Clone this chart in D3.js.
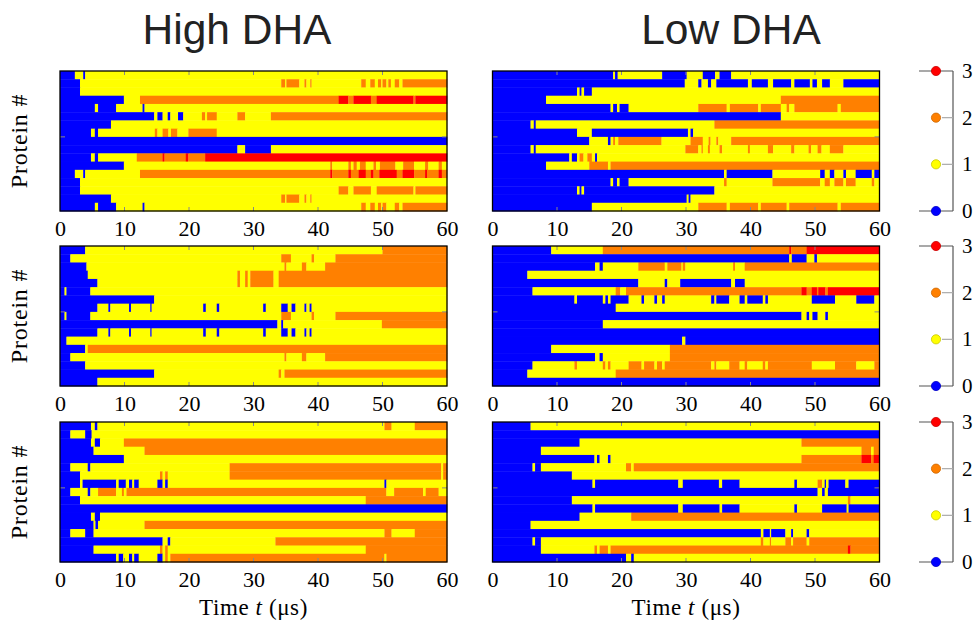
<!DOCTYPE html>
<html>
<head>
<meta charset="utf-8">
<script src="https://cdn.jsdelivr.net/npm/d3@7"></script>
<style>
  body { margin: 0; background: #fff; }
  svg { display: block; }
  .title { font-family: "Liberation Sans", Arial, sans-serif; font-size: 42.5px; fill: #222; }
  .lbl { font-family: "Liberation Serif", "Times New Roman", serif; font-size: 22px; fill: #000; }
  .axis text { font-family: "Liberation Serif", "Times New Roman", serif; font-size: 22px; fill: #000; }
  .axis path, .axis line { display: none; }
</style>
</head>
<body>
<svg id="chart" width="975" height="625"></svg>
<script>
// each row = list of [start time (us), state] change points, row runs until 60
var highTop = [
  [[0,0],[2.3,1],[3.6,0],[3.9,1]],
  [[0,0],[3.1,1],[34.3,2],[34.9,1],[35.1,2],[37.1,1],[37.9,2],[38.2,1],[38.8,2],[39.0,1],[46.7,2],[47.4,1],[48.1,2],[48.8,1],[49.3,2],[49.8,1],[50.0,2],[50.6,1],[50.9,2],[51.3,1],[51.9,2],[52.6,1],[53.1,2]],
  [[0,0],[3.1,1]],
  [[0,0],[9.9,1],[12.4,2],[43.2,3],[44.7,2],[45.5,3],[48.2,2],[49.1,3],[54.8,2],[55.1,3]],
  [[0,0],[5.4,1],[5.9,0],[8.7,1],[12.8,0],[13.1,1]],
  [[0,0],[14.6,1],[15.1,0],[15.9,1],[16.7,0],[17.1,1],[18.3,0],[19.1,1],[22.0,2],[22.5,1],[22.8,2],[24.3,1],[27.5,2],[28.7,1],[32.7,2]],
  [[0,0],[7.9,1]],
  [[0,0],[4.8,1],[5.4,0],[5.9,1],[14.7,2],[15.1,1],[15.9,2],[16.8,1],[17.2,2],[18.2,1],[19.9,2],[24.3,1]],
  [[0,0]],
  [[0,0],[27.5,1],[28.7,0],[32.7,1]],
  [[0,0],[4.8,1],[5.4,0],[5.9,1],[11.9,2],[15.9,3],[16.2,2],[19.5,3],[19.9,2],[22.5,3]],
  [[0,0],[9.9,1],[41.9,2],[42.2,1],[44.7,2],[45.1,1],[45.5,2],[46.0,1],[46.5,2],[47.4,1],[48.6,2],[49.0,1],[49.6,2],[52.0,1],[53.2,2],[54.9,1],[56.6,2],[57.1,1],[58.7,2],[59.2,1]],
  [[0,0],[2.3,1],[3.6,0],[3.9,1],[12.4,2],[41.9,3],[42.2,2],[44.7,3],[45.1,2],[46.3,3],[47.4,2],[48.2,3],[48.6,2],[49.5,3],[52.2,2],[53.1,3],[54.9,2],[56.6,3],[56.9,2],[58.7,3],[59.2,2]],
  [[0,0],[3.1,1]],
  [[0,0],[3.1,1],[43.2,2],[44.7,1],[45.5,2],[48.2,1],[49.1,2],[54.8,1],[55.1,2]],
  [[0,0],[7.9,1],[34.3,2],[34.9,1],[35.1,2],[37.1,1],[37.9,2],[38.2,1],[38.8,2],[39.0,1]],
  [[0,0],[5.4,1],[5.9,0],[8.7,1],[12.8,0],[13.1,1],[46.7,2],[47.4,1],[48.1,2],[48.8,1],[49.3,2],[49.8,1],[50.0,2],[50.6,1],[51.9,2],[52.6,1],[53.1,2]]
];
var lowTop = [
  [[0,0],[18.7,1],[19.0,0],[19.4,1],[26.3,0],[30.1,1],[32.6,0],[34.5,1],[35.2,0],[37.0,1]],
  [[0,0],[29.8,1],[31.9,0],[32.4,1],[33.4,0],[33.9,1],[34.7,0],[39.6,1],[40.2,0],[42.7,1],[43.5,0],[46.3,1],[46.8,0],[49.2,1],[49.6,0],[50.3,1],[51.1,0],[52.3,1],[54.4,0]],
  [[0,0],[13.1,1],[13.5,0],[13.8,1],[14.2,0],[15.4,1]],
  [[0,0],[8.3,1],[44.7,2]],
  [[0,0],[18.3,1],[18.7,0],[19.3,1],[19.7,0],[21.1,1],[31.9,2],[36.3,1],[36.8,2],[41.2,1],[41.6,2],[44.7,1],[45.6,2],[46.0,1],[46.8,2],[53.5,1],[54.0,2]],
  [[0,0],[44.7,1]],
  [[0,0],[5.9,1],[6.4,0],[6.7,1],[34.4,2]],
  [[0,0],[13.1,1],[15.4,0],[30.3,1],[30.7,0],[31.1,1]],
  [[0,0],[15.0,1],[17.9,0],[18.3,1],[18.7,2],[19.0,1],[19.5,2],[26.2,1],[30.7,2],[32.6,1],[33.5,2],[33.8,1],[34.7,2],[35.0,1],[37.0,2]],
  [[0,0],[5.9,1],[6.4,0],[6.7,1],[29.9,2],[31.9,1],[32.4,2],[32.6,1],[33.4,2],[33.7,1],[35.2,2],[35.6,1],[39.6,2],[39.9,1],[42.7,2],[43.5,1],[46.3,2],[46.8,1],[49.0,2],[49.4,1],[50.4,2],[51.0,1],[52.3,2],[54.4,1]],
  [[0,0],[11.9,1],[12.3,0],[13.1,1],[13.5,2],[14.1,1],[14.7,2],[15.4,1],[15.9,0],[16.2,1]],
  [[0,0],[8.3,1],[15.0,2],[17.9,1],[18.3,2]],
  [[0,0],[35.9,1],[36.3,0],[43.4,1],[50.8,0],[51.5,1],[52.3,0],[53.0,1],[54.4,0],[54.8,1],[56.3,0],[58.8,1],[59.2,0]],
  [[0,0],[18.3,1],[18.7,0],[19.3,1],[19.7,0],[21.1,1],[35.9,2],[36.3,1],[43.4,2],[50.8,1],[51.5,2],[52.3,1],[53.0,2],[54.4,1],[54.8,2],[56.3,1],[58.8,2],[59.2,1]],
  [[0,0],[13.1,1],[13.5,0],[13.8,1],[14.2,0],[34.4,1]],
  [[0,0],[30.1,1],[30.4,0],[30.7,1]],
  [[0,0],[15.4,1],[31.9,2],[36.3,1],[36.8,2],[41.2,1],[41.6,2],[45.6,1],[46.0,2],[53.5,1],[54.0,2]]
];
var highMid = [
  [[0,0],[3.9,1],[50.0,2]],
  [[0,0],[1.6,1],[34.3,2],[35.8,1],[39.0,2],[39.4,1],[42.7,2]],
  [[0,0],[4.1,1],[34.8,2],[35.1,1],[37.5,2],[38.2,1],[41.1,2]],
  [[0,0],[4.3,1],[27.5,2],[27.9,1],[28.7,2],[29.1,1],[29.5,2],[33.1,1],[33.9,2]],
  [[0,0],[5.8,1],[27.5,2],[27.9,1],[28.7,2],[29.1,1],[29.5,2],[33.1,1],[33.9,2]],
  [[0,0],[0.7,1],[1.0,0],[4.7,1]],
  [[0,0],[14.6,1]],
  [[0,0],[5.8,1],[7.5,0],[7.8,1],[10.7,0],[11.0,1],[14.0,0],[14.2,1],[22.2,0],[22.6,1],[24.3,0],[24.7,1],[31.5,0],[31.9,1],[34.3,0],[35.3,1],[35.9,0],[36.5,1],[37.9,0],[38.2,1],[38.7,0],[39.0,1]],
  [[0,0],[0.7,1],[1.0,0],[4.7,1],[34.3,2],[35.8,1],[39.0,2],[39.4,1],[42.7,2]],
  [[0,0],[33.7,1],[34.3,0],[34.6,1],[49.9,2]],
  [[0,0],[5.8,1],[7.5,0],[7.8,1],[10.7,0],[11.0,1],[14.0,0],[14.2,1],[22.2,0],[22.6,1],[24.3,0],[24.7,1],[31.5,0],[31.9,1],[34.3,0],[35.3,1],[35.9,0],[36.5,1],[37.9,0],[38.2,1],[38.7,0],[39.0,1]],
  [[0,0],[1.0,1]],
  [[0,0],[3.9,1],[4.3,2]],
  [[0,0],[1.6,1],[34.8,2],[35.1,1],[37.5,2],[38.2,1],[41.1,2]],
  [[0,0],[3.9,1]],
  [[0,0],[14.6,1],[33.9,2],[34.3,1],[34.8,2]],
  [[0,0],[5.8,1]]
];
var lowMid = [
  [[0,0],[9.1,1],[17.1,2],[46.0,3],[46.3,2],[48.7,3]],
  [[0,0],[46.0,1],[46.4,0],[48.7,1],[49.9,0],[50.3,1]],
  [[0,0],[15.9,1],[16.6,0],[17.1,1],[22.6,2],[26.7,1],[27.1,2],[29.3,1],[29.5,2],[29.9,1],[37.3,2],[37.6,1],[39.1,2]],
  [[0,0],[5.4,1]],
  [[0,0],[22.6,1],[26.7,0],[27.1,1],[29.1,0],[37.0,1],[37.6,0],[39.1,1]],
  [[0,0],[6.2,1],[19.1,2],[19.8,1],[20.7,2],[47.9,3],[48.7,2],[49.5,3],[50.3,2],[50.5,3],[51.6,2],[52.0,3]],
  [[0,0],[12.7,1],[13.1,0],[17.1,1],[17.5,0],[17.9,1],[18.3,0],[21.1,1],[23.1,0],[23.5,1],[25.1,0],[25.5,1],[26.3,0],[26.7,1],[33.9,0],[34.4,1],[34.7,0],[36.7,1],[38.3,0],[39.1,1],[39.5,0],[41.9,1],[42.3,0],[42.7,1],[49.5,0],[53.1,1],[56.4,0],[59.2,1]],
  [[0,0],[19.1,1]],
  [[0,0],[47.9,1],[48.7,0],[49.1,1],[49.6,0],[50.4,1],[51.6,0],[52.0,1]],
  [[0,0],[17.1,1]],
  [[0,0]],
  [[0,0],[29.4,1],[29.9,0]],
  [[0,0],[9.1,1],[27.5,2]],
  [[0,0],[15.9,1],[16.6,0],[17.1,1],[27.5,2]],
  [[0,0],[6.2,1],[12.7,2],[13.1,1],[17.1,2],[17.5,1],[17.9,2],[18.3,1],[21.1,2],[23.1,1],[23.5,2],[25.1,1],[25.5,2],[26.3,1],[26.7,2],[33.9,1],[34.4,2],[34.7,1],[36.7,2],[38.3,1],[39.1,2],[39.5,1],[41.9,2],[42.3,1],[42.7,2],[49.5,1],[53.1,2],[56.4,1],[59.2,2]],
  [[0,0],[5.4,1],[19.1,2]],
  [[0,0]]
];
var highBot = [
  [[0,0],[4.8,1],[5.4,0],[5.8,1],[50.3,2],[51.4,1],[55.0,2]],
  [[0,0],[1.6,1],[3.9,0],[4.9,1]],
  [[0,0],[4.8,1],[5.4,0],[6.2,1],[9.9,2]],
  [[0,0],[5.2,1],[13.1,2]],
  [[0,0],[9.9,1]],
  [[0,0],[1.6,1],[4.3,0],[4.7,1],[26.3,2],[59.1,1],[59.4,2]],
  [[0,0],[3.1,1],[15.5,2],[15.9,1],[16.3,2],[16.7,1],[26.3,2],[59.1,1],[59.4,2]],
  [[0,0],[3.1,1],[3.5,0],[8.7,1],[9.1,0],[10.2,1],[10.7,0],[11.2,1],[11.5,0],[12.2,1],[15.1,0],[15.9,1],[16.3,0],[16.7,1],[50.3,0],[50.6,1]],
  [[0,0],[1.6,1],[4.3,0],[4.7,1],[5.9,2],[8.7,1],[9.6,2],[9.9,1],[10.3,2],[50.6,1],[51.8,2],[56.3,1],[56.7,2],[58.7,1]],
  [[0,0],[3.1,1],[47.4,2]],
  [[0,0]],
  [[0,0],[4.8,1],[5.4,0],[6.2,1]],
  [[0,0],[5.2,1],[5.5,0],[5.9,1],[13.1,2]],
  [[0,0],[1.6,1],[3.9,0],[5.2,1],[50.3,2],[51.4,1],[55.0,2]],
  [[0,0],[15.9,1],[16.7,0],[17.1,1],[33.4,2]],
  [[0,0],[5.2,1],[15.5,2],[15.9,1],[16.3,2],[16.7,1],[47.4,2]],
  [[0,0],[8.7,1],[9.1,0],[9.8,1],[10.7,0],[11.2,1],[11.5,0],[12.2,1],[15.1,0],[15.9,1],[16.3,2],[16.7,1],[17.1,2],[50.3,1],[50.6,2]]
];
var lowBot = [
  [[0,0],[5.9,1]],
  [[0,0]],
  [[0,0],[13.5,1],[47.9,2]],
  [[0,0],[7.5,1],[57.2,2],[58.7,1],[59.1,2]],
  [[0,0],[15.8,1],[16.2,0],[16.6,1],[17.9,0],[18.3,1],[47.9,2],[57.2,3],[58.7,2],[59.1,3]],
  [[0,0],[6.2,1],[6.6,0],[7.5,1],[20.7,2],[21.5,1],[21.9,2]],
  [[0,0],[12.3,1]],
  [[0,0],[15.5,1],[15.9,0],[28.8,1],[29.5,0],[35.1,1],[35.6,0],[38.3,1],[46.8,0],[47.2,1],[50.4,2],[51.1,1],[51.5,0],[51.7,1],[52.1,0],[54.7,1],[55.2,0]],
  [[0,0],[50.4,1],[51.1,0],[51.5,1],[52.0,0]],
  [[0,0],[12.3,1],[55.1,2],[55.5,1]],
  [[0,0],[15.5,1],[15.9,0],[28.8,1],[29.5,0],[35.2,1],[35.6,0],[38.3,1],[46.8,0],[47.2,1],[51.1,0],[54.9,1],[55.2,0]],
  [[0,0],[13.5,1],[21.5,2]],
  [[0,0],[5.9,1]],
  [[0,0],[41.6,1],[42.0,0],[43.0,1],[43.2,0],[45.4,1],[46.3,0],[46.6,1],[48.7,0],[49.1,1]],
  [[0,0],[6.2,1],[6.6,0],[7.5,1],[41.6,2],[42.0,1],[43.0,2],[43.2,1],[45.4,2],[46.3,1],[46.6,2],[48.7,1],[49.1,2]],
  [[0,0],[7.5,1],[15.8,2],[16.2,1],[16.6,2],[17.9,1],[18.3,2],[55.1,3],[55.5,2]],
  [[0,0],[20.7,1],[21.5,0],[21.9,1]]
];

var states = [0, 1, 2, 3];
var stateColors = ["#0000ff", "#ffff00", "#ff8000", "#ff0000"];
var dotStroke = ["#0000c8", "#c8c800", "#cc6600", "#cc0000"];
var xTicks = [0, 10, 20, 30, 40, 50, 60];
var tMax = 60;
var columnTitles = ["High DHA", "Low DHA"];

var svg = d3.select("#chart");
var W = 387, H = 140;
var colX = [60, 492.5];
var rowY = [71, 246, 422];
var grid = [[highTop, lowTop], [highMid, lowMid], [highBot, lowBot]];

var x = d3.scaleLinear().domain([0, tMax]).range([0, W]);
var color = d3.scaleOrdinal().domain(states).range(stateColors);

// titles
svg.selectAll(".title").data(columnTitles).enter().append("text")
  .attr("class", "title")
  .attr("x", function(d, i){ return [237, 731][i]; })
  .attr("y", 44)
  .attr("text-anchor", "middle")
  .text(function(d){ return d; });

grid.forEach(function(rowOfPanels, r){
  rowOfPanels.forEach(function(data, c){
    var g = svg.append("g").attr("transform", "translate(" + colX[c] + "," + rowY[r] + ")");
    var nRows = data.length;
    var y = d3.scaleBand().domain(d3.range(nRows)).range([0, H]);
    var yLin = d3.scaleLinear().domain([0, nRows]).range([H, 0]);

    // flatten change points into segments
    var segs = [];
    data.forEach(function(row, ri){
      row.forEach(function(p, k){
        var end = k < row.length - 1 ? row[k + 1][0] : tMax;
        segs.push({row: ri, t0: p[0], t1: end, s: p[1]});
      });
    });

    g.selectAll("rect.seg").data(segs).enter().append("rect")
      .attr("class", "seg")
      .attr("x", function(d){ return x(d.t0); })
      .attr("width", function(d){ return x(d.t1) - x(d.t0) + 0.3; })
      .attr("y", function(d){ return y(d.row); })
      .attr("height", y.bandwidth() + 0.4)
      .attr("fill", function(d){ return color(d.s); });

    // inner tick marks
    var inner = xTicks.slice(1, -1);
    g.selectAll("line.tb").data(inner).enter().append("line")
      .attr("x1", function(d){ return x(d); }).attr("x2", function(d){ return x(d); })
      .attr("y1", 0).attr("y2", 4)
      .attr("stroke", "#888").attr("stroke-width", 1);
    g.selectAll("line.bt").data(inner).enter().append("line")
      .attr("x1", function(d){ return x(d); }).attr("x2", function(d){ return x(d); })
      .attr("y1", H).attr("y2", H - 4)
      .attr("stroke", "#888").attr("stroke-width", 1);
    [[0, 5], [W, W - 5]].forEach(function(p){
      g.append("line")
        .attr("x1", p[0]).attr("x2", p[1])
        .attr("y1", yLin(9)).attr("y2", yLin(9))
        .attr("stroke", "#888").attr("stroke-width", 1);
    });

    g.append("rect")
      .attr("width", W).attr("height", H)
      .attr("fill", "none").attr("stroke", "#000").attr("stroke-width", 1.3);

    g.append("g")
      .attr("class", "axis")
      .attr("transform", "translate(0," + H + ")")
      .call(d3.axisBottom(x).tickValues(xTicks).tickSize(0).tickPadding(9).tickFormat(d3.format("d")));

    if (c === 0) {
      svg.append("text")
        .attr("class", "lbl")
        .attr("transform", "translate(27," + (rowY[r] + H / 2) + ") rotate(-90)")
        .attr("text-anchor", "middle")
        .style("font-size", "24px")
        .style("letter-spacing", "0.8px")
        .text("Protein #");
    }
  });

  // legend
  var lg = svg.append("g").attr("transform", "translate(0," + rowY[r] + ")");
  var ly = d3.scaleLinear().domain([0, 3]).range([H, 0]);
  var lineX = 953, dotX = 936;
  lg.append("line").attr("x1", lineX).attr("x2", lineX).attr("y1", 0).attr("y2", H)
    .attr("stroke", "#555").attr("stroke-width", 1.2);
  lg.selectAll("line.lt").data(states).enter().append("line")
    .attr("x1", function(d){ return (d === 0 || d === 3) ? 919 : 942; })
    .attr("x2", lineX)
    .attr("y1", function(d){ return ly(d); }).attr("y2", function(d){ return ly(d); })
    .attr("stroke", function(d){ return (d === 0 || d === 3) ? "#555" : "#aaa"; })
    .attr("stroke-width", 1.2);
  lg.selectAll("circle").data(states).enter().append("circle")
    .attr("cx", dotX).attr("cy", function(d){ return ly(d); }).attr("r", 4.6)
    .attr("fill", function(d){ return color(d); })
    .attr("stroke", function(d){ return dotStroke[d]; }).attr("stroke-width", 0.8);
  lg.selectAll("text").data(states).enter().append("text")
    .attr("class", "lbl")
    .attr("x", 962).attr("y", function(d){ return ly(d) + 7; })
    .style("font-size", "21px")
    .text(function(d){ return d; });
});

// x labels
colX.forEach(function(cx){
  var t = svg.append("text").attr("class", "lbl")
    .attr("x", cx + W / 2).attr("y", 615).attr("text-anchor", "middle")
    .style("font-size", "23px").style("letter-spacing", "0.6px");
  t.append("tspan").text("Time ");
  t.append("tspan").style("font-style", "italic").text("t");
  t.append("tspan").text(" (\u03bcs)");
});
</script>
</body>
</html>
